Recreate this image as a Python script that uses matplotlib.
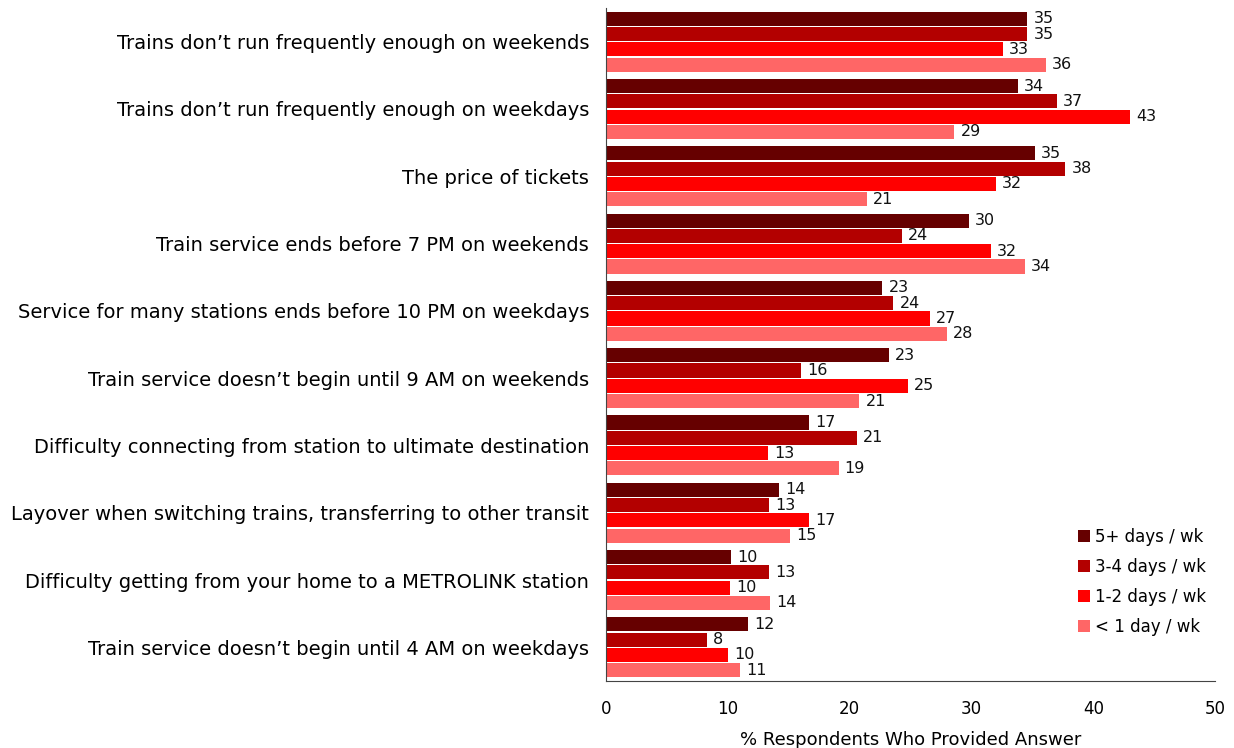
import matplotlib
matplotlib.use('Agg')
import matplotlib.pyplot as plt
import numpy as np

# categories, top to bottom
categories = [
    'Trains don\u2019t run frequently enough on weekends',
    'Trains don\u2019t run frequently enough on weekdays',
    'The price of tickets',
    'Train service ends before 7 PM on weekends',
    'Service for many stations ends before 10 PM on weekdays',
    'Train service doesn\u2019t begin until 9 AM on weekends',
    'Difficulty connecting from station to ultimate destination',
    'Layover when switching trains, transferring to other transit',
    'Difficulty getting from your home to a METROLINK station',
    'Train service doesn\u2019t begin until 4 AM on weekdays',
]

series_names = ['5+ days / wk', '3-4 days / wk', '1-2 days / wk', '< 1 day / wk']

days_5plus = [34.6, 33.8, 35.2, 29.8, 22.7, 23.2, 16.7, 14.2, 10.3, 11.7]
days_3to4 = [34.6, 37.0, 37.7, 24.3, 23.6, 16.0, 20.6, 13.4, 13.4, 8.3]
days_1to2 = [32.6, 43.0, 32.0, 31.6, 26.6, 24.8, 13.3, 16.7, 10.2, 10.0]
days_lt1 = [36.1, 28.6, 21.4, 34.4, 28.0, 20.8, 19.1, 15.1, 13.5, 11.0]

colors = ['#660000', '#b30000', '#ff0000', '#ff6666']

fig = plt.figure(figsize=(12.34, 7.48), dpi=100)
ax = fig.add_axes([0.491, 0.0896, 0.4937, 0.8997])

y = np.arange(len(categories))
pitch = 0.227
h = 0.21
for k, (vals, name, c) in enumerate(zip([days_5plus, days_3to4, days_1to2, days_lt1], series_names, colors)):
    pos = y + (k - 1.5) * pitch
    ax.barh(pos, vals, height=h, color=c, label=name)
    for p, v in zip(pos, vals):
        ax.text(v + 0.5, p, '%d' % round(v), va='center', ha='left', fontsize=11.5, color='#111111')

ax.set_ylim(len(categories) - 0.5, -0.5)
ax.set_xlim(0, 50)
ax.set_xticks([0, 10, 20, 30, 40, 50])
ax.set_yticks(y)
ax.set_yticklabels(categories, fontsize=14)
ax.tick_params(axis='both', length=0)
ax.tick_params(axis='x', labelsize=12, pad=14)
ax.tick_params(axis='y', pad=12)
ax.set_xlabel('% Respondents Who Provided Answer', fontsize=13, labelpad=9)
ax.spines['top'].set_visible(False)
ax.spines['right'].set_visible(False)
ax.spines['left'].set_color('#444444')
ax.spines['bottom'].set_color('#444444')

ax.legend(loc='upper left', bbox_to_anchor=(1071 / 1234, 1 - 521 / 748), bbox_transform=fig.transFigure,
          frameon=False, fontsize=12, handlelength=0.75, handleheight=0.75, handletextpad=0.3,
          labelspacing=0.72, borderaxespad=0)

fig.savefig('out.png', dpi=100)
